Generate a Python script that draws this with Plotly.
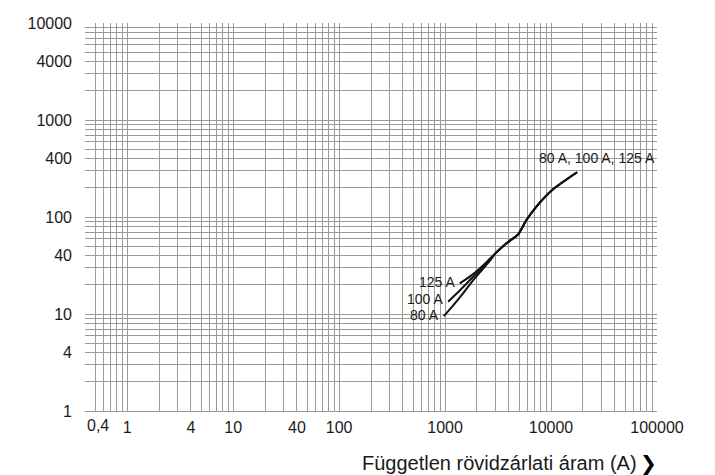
import numpy as np
import plotly.graph_objects as go

# ---- data ----
merged_x = [3000, 3800, 4900, 5860, 7280, 10440, 17600]
merged_y = [42.4, 53.6, 66.3, 93, 128, 193, 289]

x_125 = [1377, 1711, 2125, 2560]
y_125 = [20.7, 24.3, 29.5, 35.8]

x_100 = [1068, 1377, 1775, 2205, 2600]
y_100 = [13.4, 17.5, 23.2, 29.4, 35.5]

x_80 = [972, 1189, 1478, 1836, 2282, 2640]
y_80 = [9.5, 12.2, 16.3, 22.2, 29.2, 35.3]

series_names = ["125 A", "100 A", "80 A"]
common_label = "80 A, 100 A, 125 A"

x_label_vals = [1, 4, 10, 40, 100, 1000, 10000, 100000]
x_label_text = ["1", "4", "10", "40", "100", "1000", "10000", "100000"]
x_first_label = "0,4"
y_label_vals = [1, 4, 10, 40, 100, 400, 1000, 4000, 10000]
y_label_text = ["1", "4", "10", "40", "100", "400", "1000", "4000", "10000"]

x_title = "Független rövidzárlati áram (A)"

# ---- grid positions (1..9 × 10^k) ----
def grid_vals(lo_exp, hi_exp, lo, hi, include_lo=True):
    vals = []
    for e in range(lo_exp, hi_exp + 1):
        for m in range(1, 10):
            v = m * 10.0 ** e
            if include_lo:
                ok = v >= lo * 0.9999
            else:
                ok = v > lo * 1.0001
            if ok and v <= hi * 1.0001:
                vals.append(v)
    return vals

xgrid = grid_vals(-1, 5, 0.4, 100000, include_lo=False)
ygrid = grid_vals(0, 4, 1, 10000, include_lo=True)

def make_text(grid, lvals, ltext):
    out = []
    for g in grid:
        t = ""
        for v, s in zip(lvals, ltext):
            if abs(g - v) / v < 1e-6:
                t = s
        out.append(t)
    return out

xtext = make_text(xgrid, x_label_vals, x_label_text)
ytext = make_text(ygrid, y_label_vals, y_label_text)

FONT = "Liberation Sans, Arial, Helvetica, sans-serif"
TXT = "#1a1a1a"
GRID = "#9a9a9a"

fig = go.Figure()
for bx, by in [(x_125, y_125), (x_100, y_100), (x_80, y_80)]:
    fig.add_trace(go.Scatter(
        x=bx + merged_x, y=by + merged_y, mode="lines",
        line=dict(color="#111111", width=2, shape="spline", smoothing=0.5),
        showlegend=False, hoverinfo="skip"))

# labels at start of each branch
for name, bx, by, ys in zip(series_names, [x_125, x_100, x_80], [y_125, y_100, y_80], [1.6, 3, 1.2]):
    fig.add_annotation(x=np.log10(bx[0]), y=np.log10(by[0]), text=name,
                       showarrow=False, xanchor="right", yanchor="middle",
                       xshift=-3, yshift=ys, font=dict(family=FONT, size=14, color=TXT))

fig.add_annotation(x=np.log10(merged_x[-1]), y=np.log10(merged_y[-1]), text=common_label,
                   showarrow=False, xanchor="center", yanchor="middle",
                   xshift=20, yshift=14, font=dict(family=FONT, size=14, color=TXT))

# first x label, left aligned at the axis start
fig.add_annotation(x=np.log10(0.4), y=0, xref="x", yref="paper", text=x_first_label,
                   showarrow=False, xanchor="left", yanchor="top", yshift=-4,
                   font=dict(family=FONT, size=16, color=TXT))

# x-axis title and chevron
fig.add_annotation(x=0.968, y=-0.133, xref="paper", yref="paper", text=x_title,
                   showarrow=False, xanchor="right", yanchor="middle",
                   font=dict(family=FONT, size=20, color=TXT))
fig.add_annotation(x=0.985, y=-0.133, xref="paper", yref="paper", text="<b>❯</b>",
                   showarrow=False, xanchor="center", yanchor="middle",
                   font=dict(family="DejaVu Sans", size=20, color="#000000"))

fig.update_xaxes(type="log", range=[np.log10(0.4), 5],
                 tickmode="array", tickvals=xgrid, ticktext=xtext,
                 showgrid=True, gridcolor=GRID, gridwidth=1,
                 showline=True, linecolor=GRID, linewidth=1, mirror=False,
                 ticks="", zeroline=False, ticklabelstandoff=2,
                 tickfont=dict(family=FONT, size=16, color=TXT))
fig.update_yaxes(type="log", range=[0, 4],
                 tickmode="array", tickvals=ygrid, ticktext=ytext,
                 showgrid=True, gridcolor=GRID, gridwidth=1,
                 showline=False, ticks="", zeroline=False,
                 ticklabelstandoff=12,
                 tickfont=dict(family=FONT, size=16, color=TXT))

fig.update_layout(width=715, height=475,
                  margin=dict(l=85, r=58, t=23, b=64),
                  paper_bgcolor="white", plot_bgcolor="white",
                  showlegend=False)

fig.write_html("out.html")
